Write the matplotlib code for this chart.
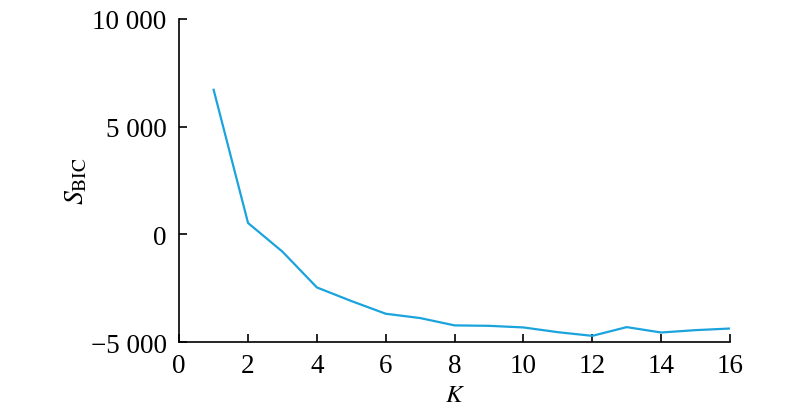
import matplotlib
matplotlib.use('Agg')
import matplotlib.pyplot as plt

# data
k_values = list(range(1, 17))
s_bic = [6710, 530, -800, -2460, -3090, -3680, -3880, -4220,
         -4240, -4315, -4535, -4705, -4300, -4550, -4440, -4365]

x_ticks = [0, 2, 4, 6, 8, 10, 12, 14, 16]
y_ticks = [-5000, 0, 5000, 10000]
y_tick_labels = ['\u22125 000', '0', '5 000', '10 000']

plt.rcParams['font.family'] = 'Liberation Serif'
plt.rcParams['mathtext.fontset'] = 'stix'

fig = plt.figure(figsize=(8, 4.14), dpi=100)
ax = fig.add_axes([0.224, 0.171, 0.6885, 0.781])

ax.plot(k_values, s_bic, color='#1aa3dd', linewidth=1.6)

ax.set_xlim(0, 16)
ax.set_ylim(-5000, 10000)
ax.set_xticks(x_ticks)
ax.set_yticks(y_ticks)
ax.set_yticklabels(y_tick_labels)

ax.spines['top'].set_visible(False)
ax.spines['right'].set_visible(False)
for s in ('left', 'bottom'):
    ax.spines[s].set_linewidth(1.2)
ax.tick_params(direction='in', length=6, width=1.2, labelsize=19.5)
ax.tick_params(axis='y', pad=9)
ax.tick_params(axis='x', pad=8)

ax.set_xlabel('$K$', fontsize=18, labelpad=4)
ax.set_ylabel('$S_{\\mathrm{BIC}}$', fontsize=20, labelpad=1)

fig.savefig('out.png', dpi=100)
